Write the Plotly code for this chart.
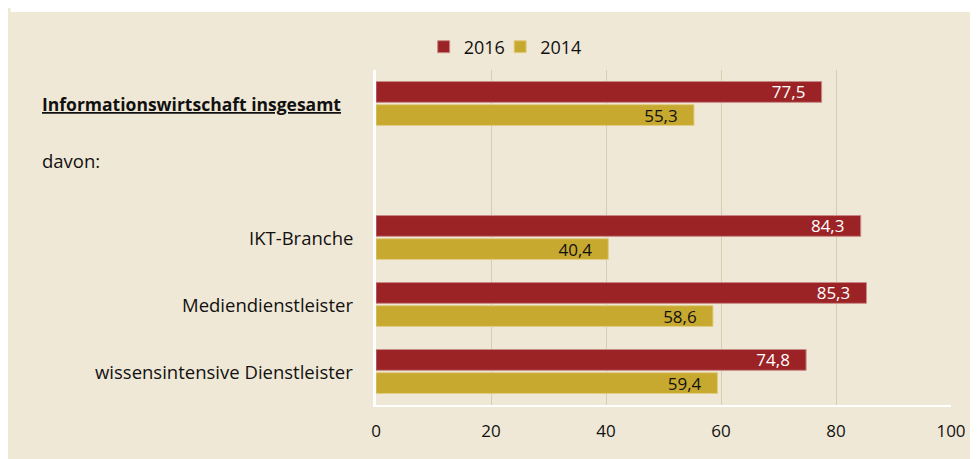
import plotly.graph_objects as go

categories = ["Informationswirtschaft insgesamt", "davon:", "IKT-Branche",
              "Mediendienstleister", "wissensintensive Dienstleister"]
values_2016 = [77.5, None, 84.3, 85.3, 74.8]
values_2014 = [55.3, None, 40.4, 58.6, 59.4]
x_ticks = [0, 20, 40, 60, 80, 100]

RED = "#9B2326"
GOLD = "#C8A930"
BG = "#F0E8D6"
FONT = "Open Sans"
FS = 17
FS_LAB = 18.5

W, H = 970, 451
L, R, T, B = 368, 23, 62, 54
pw, ph = W - L - R, H - T - B


def px_x(p):
    return (p - L) / pw


def px_y(p):
    return (H - B - p) / ph


PAD = "\u00a0\u00a0\u00a0"

fig = go.Figure()
fig.add_trace(go.Bar(
    y=categories, x=values_2016, name="2016", orientation="h", legend="legend",
    marker=dict(color=RED, line=dict(color="#C98A86", width=1)),
    texttemplate="%{x:.1f}" + PAD, textposition="inside", insidetextanchor="end",
    insidetextfont=dict(color="white", size=FS, family=FONT),
    constraintext="none", cliponaxis=False,
))
fig.add_trace(go.Bar(
    y=categories, x=values_2014, name="2014", orientation="h", legend="legend2",
    marker=dict(color=GOLD, line=dict(color="#E0CC85", width=1)),
    texttemplate="%{x:.1f}" + PAD, textposition="inside", insidetextanchor="end",
    insidetextfont=dict(color="#111111", size=FS, family=FONT),
    constraintext="none", cliponaxis=False,
))

annotations = [
    dict(text="<b><u>" + categories[0] + "</u></b>", x=px_x(30), xref="paper",
         y=categories[0], yref="y", xanchor="left", yanchor="middle",
         showarrow=False, font=dict(size=17.5, family=FONT, color="#111111")),
    dict(text=categories[1], x=px_x(30), xref="paper",
         y=categories[1], yref="y", yshift=10, xanchor="left", yanchor="middle",
         showarrow=False, font=dict(size=FS_LAB, family=FONT, color="#111111")),
]
for c in categories[2:]:
    annotations.append(dict(text=c, x=px_x(347), xref="paper", y=c, yref="y",
                            xanchor="right", yanchor="middle", showarrow=False,
                            font=dict(size=FS_LAB, family=FONT, color="#111111")))

legend_common = dict(orientation="h", xanchor="left", y=px_y(39), yanchor="middle",
                     font=dict(size=FS + 1), bgcolor="rgba(0,0,0,0)")

fig.update_layout(
    width=W, height=H,
    margin=dict(l=L, r=R, t=T, b=B),
    paper_bgcolor=BG, plot_bgcolor="rgba(0,0,0,0)",
    separators=",.",
    barmode="group", bargap=0.31, bargroupgap=0.1,
    font=dict(family=FONT, size=FS, color="#111111"),
    showlegend=True,
    legend=dict(x=px_x(416), **legend_common),
    legend2=dict(x=px_x(493), **legend_common),
    xaxis=dict(range=[0, 100], tickvals=x_ticks, ticktext=[str(v) for v in x_ticks],
               showgrid=True, gridcolor="#D7CDB2", gridwidth=1,
               showline=True, linecolor="white", linewidth=2,
               zeroline=False, ticks="", ticklabelstandoff=10,
               tickfont=dict(size=FS, family=FONT)),
    yaxis=dict(autorange="reversed", showticklabels=False, ticks="",
               showline=True, linecolor="white", linewidth=3,
               showgrid=False, zeroline=False),
    shapes=[dict(type="rect", xref="paper", yref="paper", layer="below",
                 x0=px_x(0), x1=px_x(W), y0=px_y(4), y1=px_y(0),
                 fillcolor="white", line=dict(width=0))],
    annotations=annotations,
)

fig.write_html("out.html")
